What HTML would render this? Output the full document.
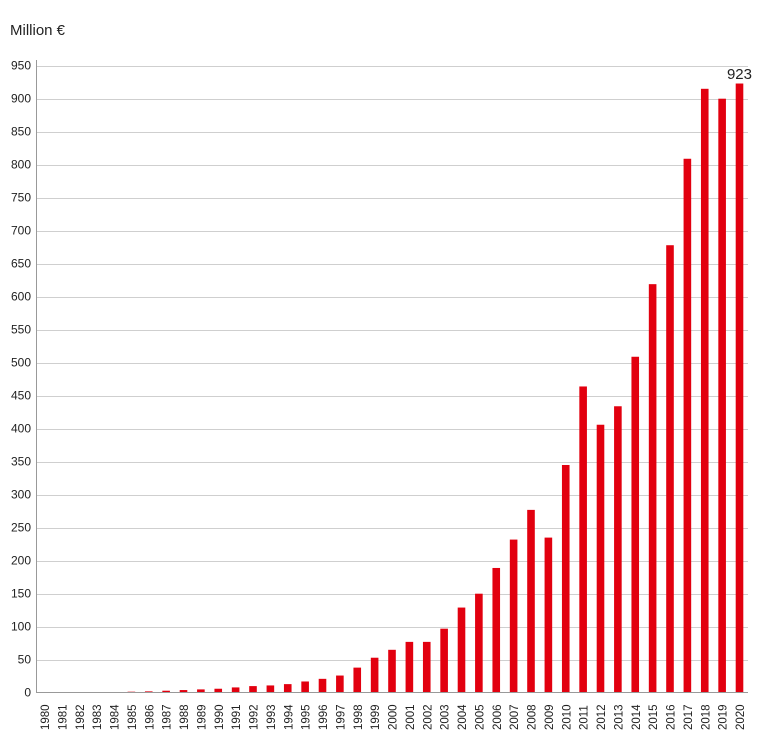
<!DOCTYPE html>
<html><head><meta charset="utf-8"><style>body{margin:0;background:#fff}svg{display:block;font-family:"Liberation Sans",sans-serif}</style></head>
<body>
<svg width="760" height="741" xmlns="http://www.w3.org/2000/svg">
<text x="10" y="35" font-size="15" fill="#222">Million €</text>
<g id="g" stroke="#cfcfcf" stroke-width="1"></g>
<g id="yl" font-size="12" fill="#222" text-anchor="end"></g>
<g id="bars" fill="#e2000f"></g>
<g id="xl" font-size="11.5" fill="#222"></g>
<line x1="36.5" y1="60" x2="36.5" y2="693" stroke="#999"/>
<line x1="36" y1="692.5" x2="748" y2="692.5" stroke="#999"/>
<text x="752" y="79" font-size="15" fill="#222" text-anchor="end">923</text>
</svg>
<script>
var ns="http://www.w3.org/2000/svg";
function el(t,a,p,txt){var e=document.createElementNS(ns,t);for(var k in a)e.setAttribute(k,a[k]);if(txt!=null)e.textContent=txt;document.getElementById(p).appendChild(e);}
var y0=692.7,s=33/50;
for(var v=50;v<=950;v+=50){var y=Math.round(y0-v*s)+0.5;el("line",{x1:36,x2:748,y1:y,y2:y},"g");}
for(var v=0;v<=950;v+=50){el("text",{x:31,y:y0-v*s+4},"yl",v);}
var d=[0,0,0.3,0.5,1,1.5,2,3,4,5,6,8,10,11,13,17,21,26,38,53,65,77,77,97,129,150,189,232,277,235,345,464,406,434,509,619,678,809,915,900,923];
for(var i=0;i<d.length;i++){var cx=44.5+i*17.375,h=d[i]*s;
el("rect",{x:cx-3.8,y:y0-h,width:7.6,height:h},"bars");
el("text",{x:0,y:0,transform:"translate("+(cx+4.5)+",730) rotate(-90)"},"xl",1980+i);}
</script>
</body></html>
